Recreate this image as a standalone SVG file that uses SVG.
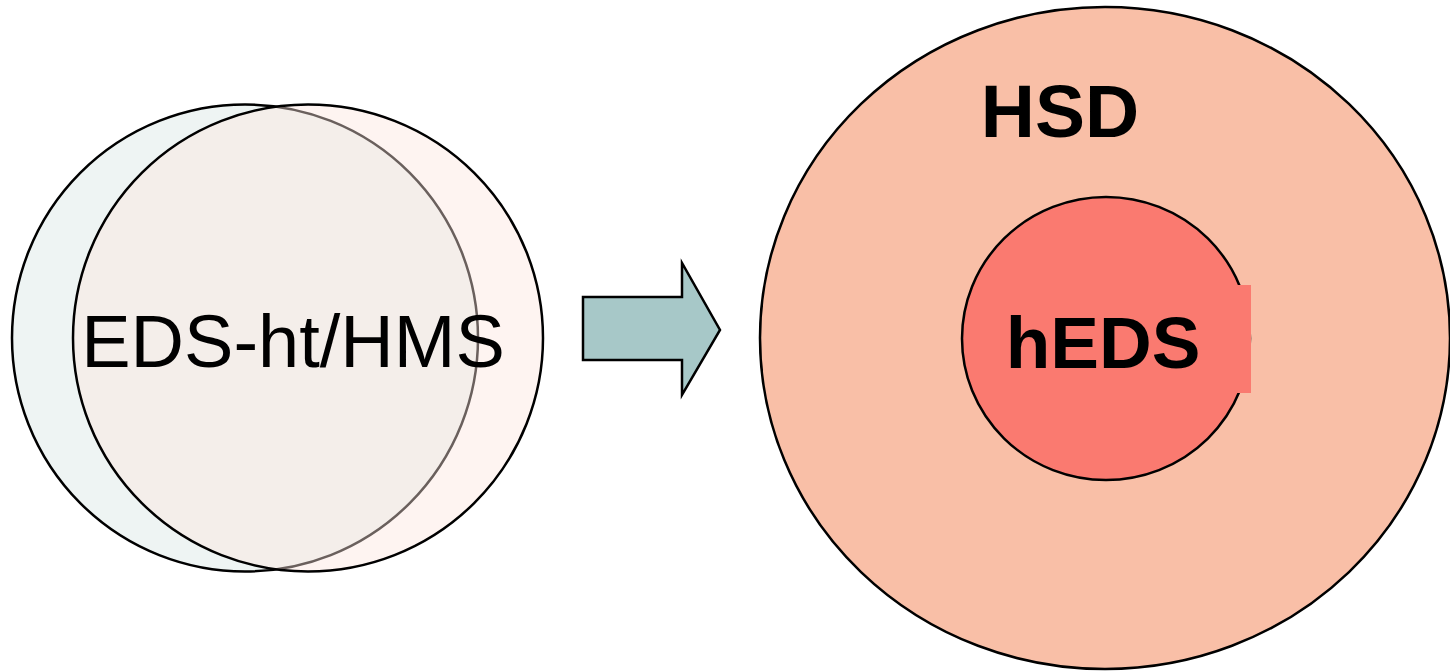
<svg xmlns="http://www.w3.org/2000/svg" width="1450" height="671" viewBox="0 0 1450 671">
<style>
.ol{stroke:#000;stroke-width:2.5}
.lbl{font-family:"Liberation Sans",Arial,sans-serif;fill:#000;text-anchor:middle}
.b{font-weight:bold}
</style>
<rect width="1450" height="671" fill="#fff"/>
<g id="circle-a">
<ellipse cx="245" cy="338" rx="233" ry="233.5" fill="#EEF4F3" class="ol"/>
</g>
<g id="circle-b">
<ellipse cx="308" cy="338" rx="235" ry="233.5" fill="#FCE4DE" fill-opacity="0.42" class="ol"/>
<text class="lbl" x="293" y="367" font-size="74">EDS-ht/HMS</text>
</g>
<g id="connectors">
<polygon points="583,297 682,297 682,263 720,330 682,395 682,360 583,360" fill="#A7C8C8" stroke="#000" stroke-width="2.5"/>
</g>
<g id="hsd">
<ellipse cx="1105" cy="338" rx="345" ry="331" fill="#F9BFA7" class="ol"/>
<text class="lbl b" x="1060" y="137" font-size="75">HSD</text>
</g>
<g id="heds">
<ellipse cx="1106" cy="338.5" rx="144" ry="141.5" fill="#FA7A70" class="ol"/>
<rect x="1010" y="285" width="241" height="108" fill="#FA7A70"/>
<text class="lbl b" x="1103" y="368" font-size="73">hEDS</text>
</g>
</svg>
